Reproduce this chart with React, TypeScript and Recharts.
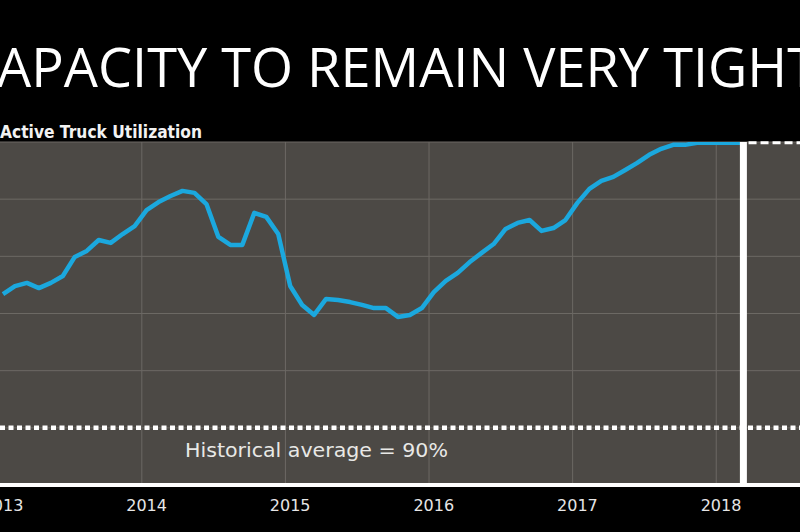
import React from "react";
import {
  ComposedChart,
  Line,
  XAxis,
  YAxis,
  CartesianGrid,
  ReferenceLine,
} from "recharts";

// Monthly active truck utilization (%), starting January 2013
const startMonth = "2013-01";
const utilization = [
  94.68, 94.96, 95.07, 94.89, 95.07, 95.31, 95.98, 96.19, 96.57, 96.47, 96.78, 97.06,
  97.62, 97.9, 98.11, 98.29, 98.22, 97.83, 96.68, 96.4, 96.4, 97.52, 97.38, 96.78,
  94.96, 94.3, 93.95, 94.51, 94.47, 94.4, 94.3, 94.19, 94.19, 93.88, 93.95, 94.19,
  94.75, 95.14, 95.42, 95.8, 96.12, 96.43, 96.96, 97.17, 97.27, 96.89, 96.99, 97.27,
  97.87, 98.36, 98.64, 98.78, 99.02, 99.27, 99.55, 99.76, 99.9, 99.9, 99.97, 99.97,
  99.97, 99.97, 99.97,
];
const yearLabels = ["2013", "2014", "2015", "2016", "2017", "2018"];
const yearTickIndex = [0, 12, 24, 36, 48, 60];
const yearBoundaries = [11.6, 23.6, 35.6, 47.6, 59.6];
const yTicks = [88, 90, 92, 94, 96, 98, 100];
const historicalAverage = 90;
const forecastStart = 61.87;
const forecastLevel = 99.97;
const xDomain: [number, number] = [-0.25, 66.6];

const data = utilization.map((v, i) => ({ k: i, v }));

const BG = "#4c4945";
const GRID = "#6c6964";
const BLUE = "#1ba8de";

const HistLabel = (props: any) => {
  const vb = props.viewBox || {};
  return (
    <text
      x={(vb.x || 0) + 316.5}
      y={(vb.y || 0) + 29}
      textAnchor="middle"
      fill="#e8e8e6"
      fontFamily="DejaVu Sans"
      fontSize={19}
      textLength={263}
      lengthAdjust="spacingAndGlyphs"
    >
      Historical average = 90%
    </text>
  );
};

export default function App() {
  return (
    <div
      style={{
        position: "absolute",
        left: 0,
        top: 0,
        width: 800,
        height: 532,
        background: "#000",
        overflow: "hidden",
      }}
    >
      <ComposedChart
        width={800}
        height={532}
        data={data}
        margin={{ top: 142, right: 0, bottom: 0, left: 0 }}
        style={{ position: "absolute", left: 0, top: 0 }}
      >
        <CartesianGrid fill={BG} stroke={GRID} strokeWidth={1} vertical={false} />
        <XAxis
          dataKey="k"
          type="number"
          domain={xDomain}
          ticks={yearTickIndex}
          tickFormatter={(v: number) => yearLabels[yearTickIndex.indexOf(v)] ?? ""}
          height={47}
          tickLine={false}
          tickSize={0}
          tickMargin={15}
          axisLine={{ stroke: "#ffffff", strokeWidth: 4 }}
          tick={{ fill: "#e6e6e6", fontSize: 16, fontFamily: "DejaVu Sans" }}
          interval={0}
          allowDataOverflow
        />
        <YAxis hide width={0} domain={[88, 100]} ticks={yTicks} allowDataOverflow />
        {yearBoundaries.map((b) => (
          <ReferenceLine key={b} x={b} stroke={GRID} strokeWidth={1} />
        ))}
        <ReferenceLine
          y={historicalAverage}
          stroke="#ffffff"
          strokeWidth={4.5}
          strokeDasharray="5 3.5"
          label={<HistLabel />}
        />
        <Line
          dataKey="v"
          type="linear"
          stroke={BLUE}
          strokeWidth={4.5}
          dot={false}
          strokeLinejoin="round"
          isAnimationActive={false}
        />
        <ReferenceLine x={forecastStart} stroke="#ffffff" strokeWidth={7} />
        <ReferenceLine
          segment={[
            { x: 62.3, y: forecastLevel },
            { x: xDomain[1], y: forecastLevel },
          ]}
          stroke="#ffffff"
          strokeWidth={3}
          strokeDasharray="8 4"
        />
      </ComposedChart>
      <svg
        width={800}
        height={142}
        style={{ position: "absolute", left: 0, top: 0, pointerEvents: "none" }}
      >
        <text
          x={-37}
          y={87}
          fill="#ffffff"
          fontFamily="Open Sans"
          fontSize={55}
          textLength={854}
          lengthAdjust="spacingAndGlyphs"
        >
          CAPACITY TO REMAIN VERY TIGHT
        </text>
        <text
          x={0}
          y={138}
          fill="#f2f2f2"
          fontFamily="DejaVu Sans"
          fontWeight="bold"
          fontSize={17}
          textLength={202}
          lengthAdjust="spacingAndGlyphs"
        >
          Active Truck Utilization
        </text>
      </svg>
    </div>
  );
}
